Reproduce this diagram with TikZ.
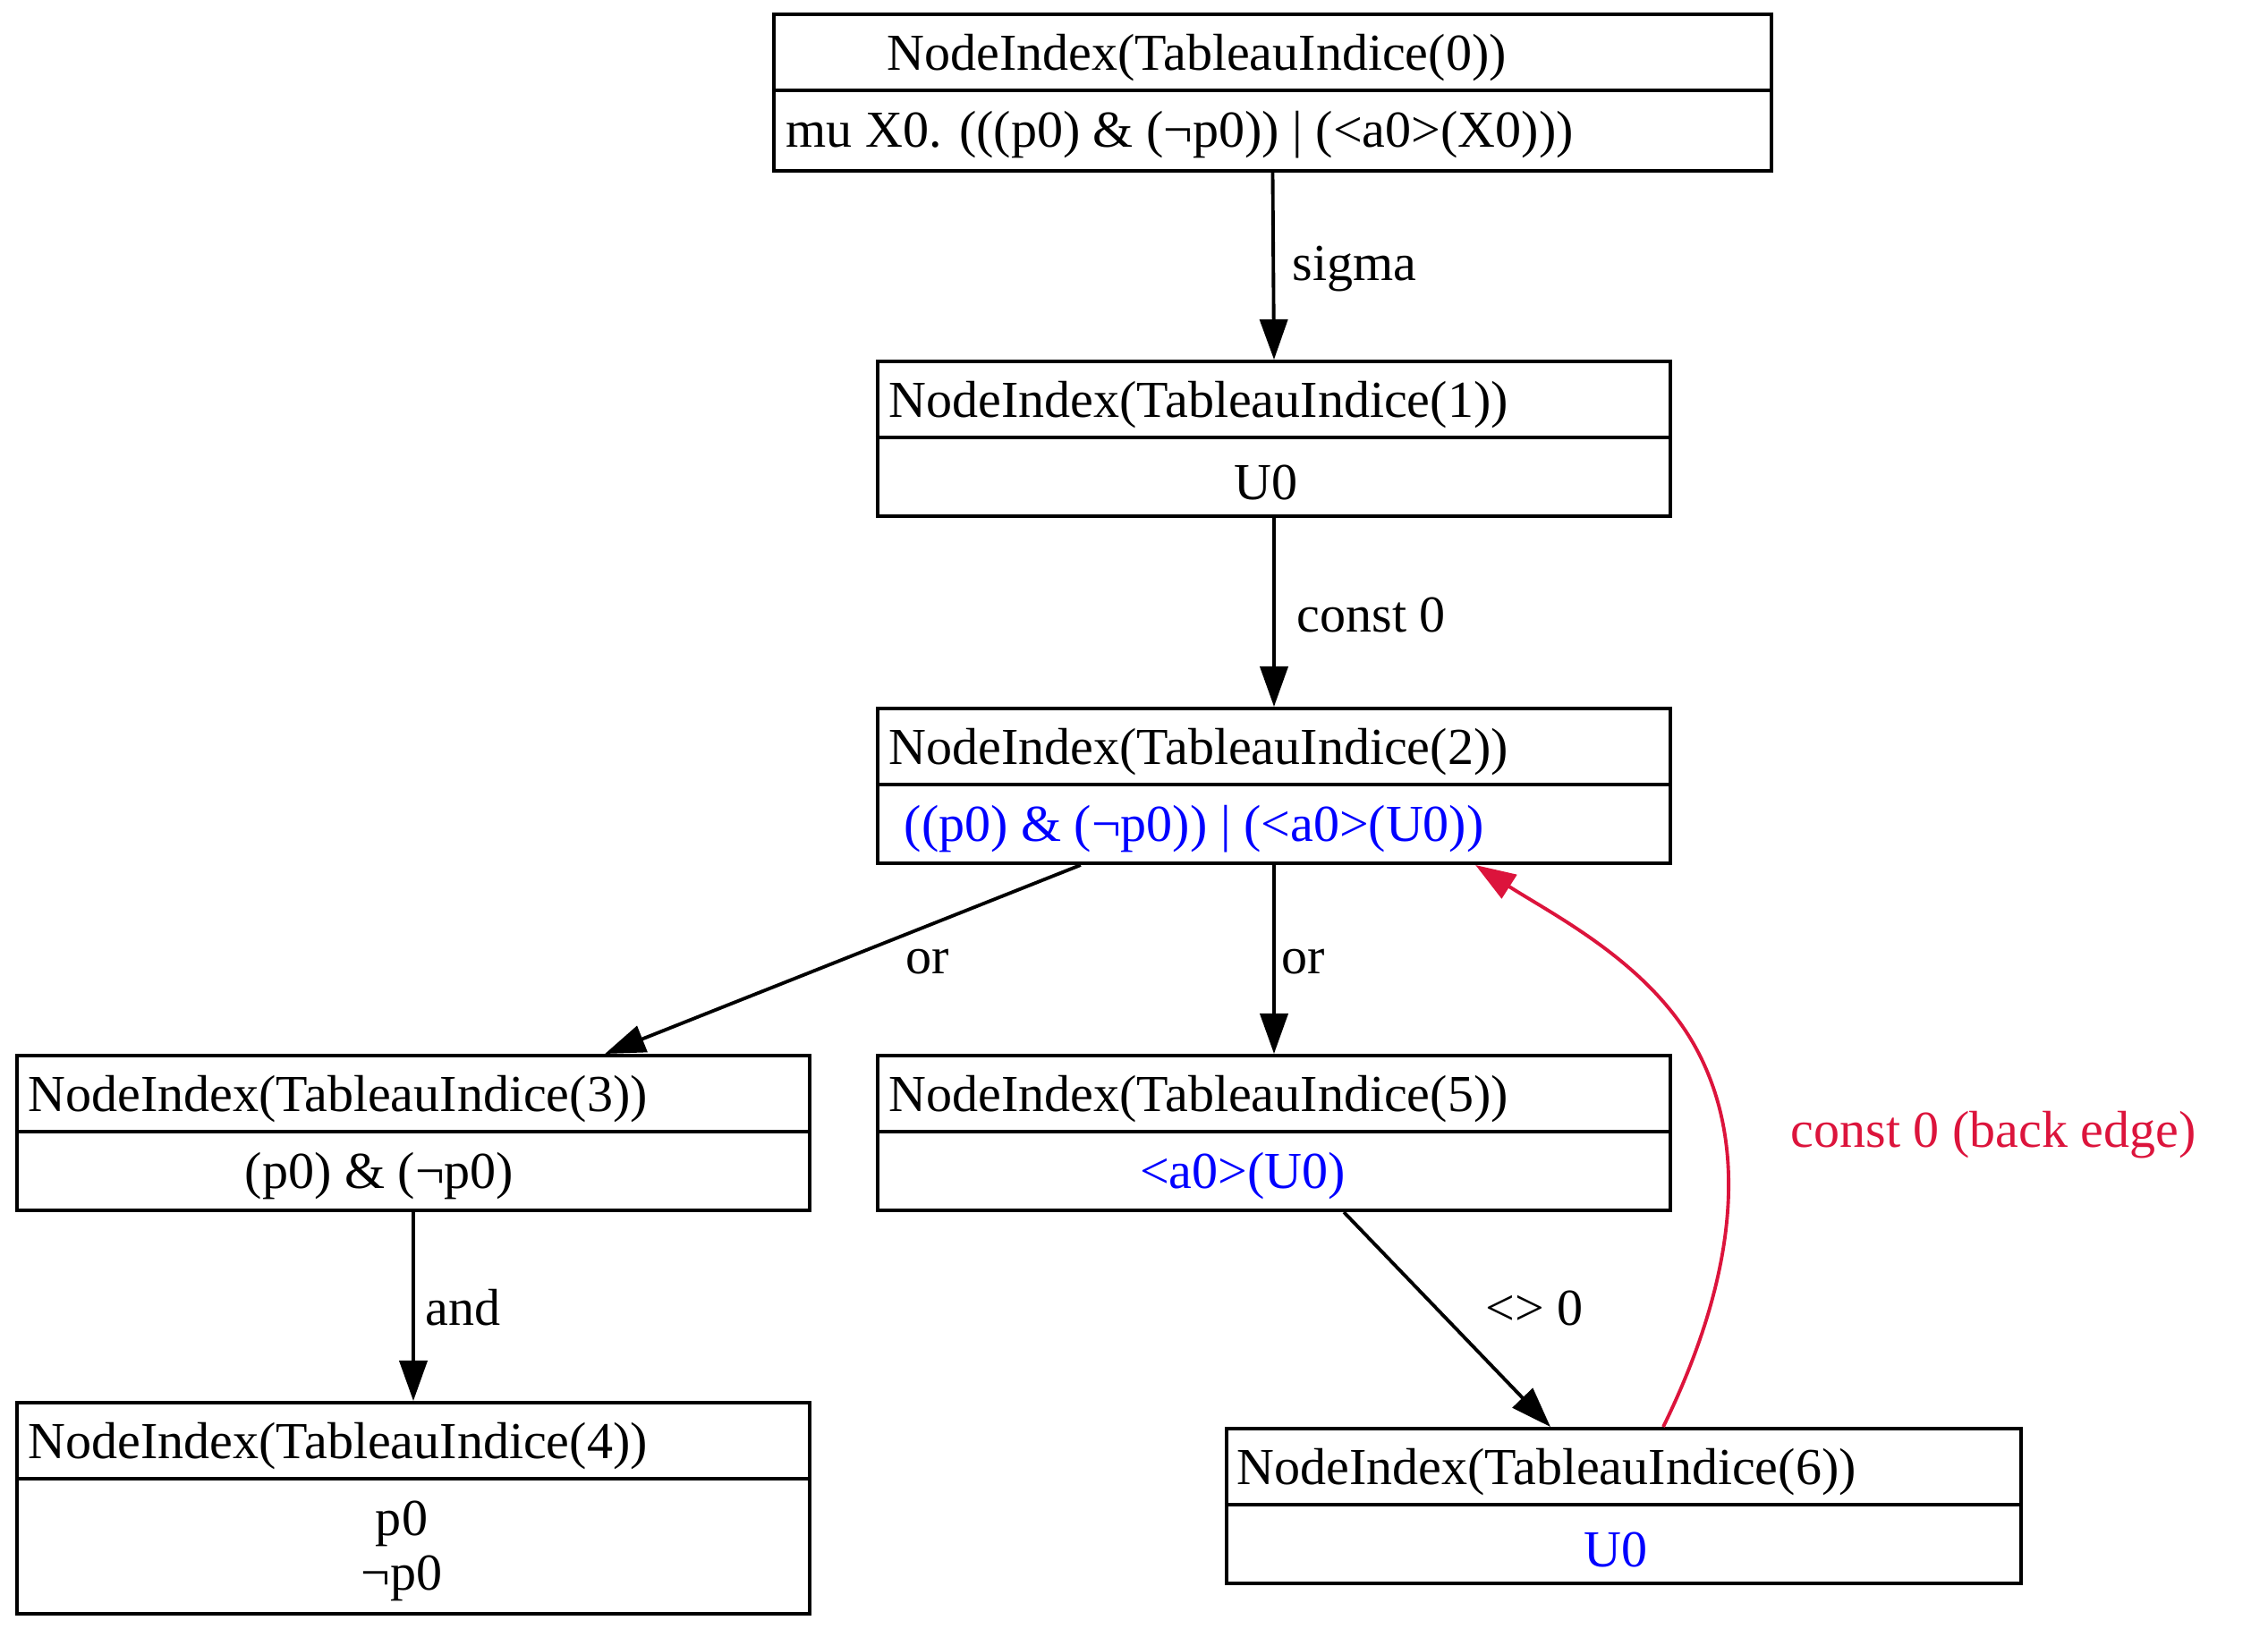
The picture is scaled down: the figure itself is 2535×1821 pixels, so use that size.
\documentclass[tikz,border=0pt]{standalone}
\usepackage{fontspec}
\setmainfont{Liberation Serif}
\usetikzlibrary{arrows.meta}
\definecolor{backred}{RGB}{220,20,60}

\begin{document}
\begin{tikzpicture}[x=0.01cm, y=-0.01cm,
    every node/.style={font=\fontsize{16.5}{19.8}\selectfont, inner sep=0pt},
    rec/.style={draw, line width=1.1pt, minimum width=8.86cm, minimum height=1.73cm},
    edge/.style={line width=1.1pt, -{Triangle[length=0.45cm, width=0.31cm]}},
    back/.style={edge, color=backred},
    formula/.style={text=blue}]

        \useasboundingbox (0,0) rectangle (2535,1821);

        % Boxes
        \node[rec, minimum width=11.15cm, minimum height=1.75cm] (n0) at (1422.5,103.5) {};
        \node[rec] (n1) at (1424,490.5) {};
        \node[rec] (n2) at (1424,878.5) {};
        \node[rec] (n3) at (462,1266.5) {};
        \node[rec] (n5) at (1424,1266.5) {};
        \node[rec, minimum height=2.36cm] (n4) at (462,1686) {};
        \node[rec, minimum width=8.88cm] (n6) at (1815,1683.5) {};

        % Dividers between title and formula
        \foreach \n in {n0,n1,n2,n3,n4,n5,n6} {
            \draw[line width=1.1pt] ([yshift=-0.87cm]\n.north west) -- ([yshift=-0.87cm]\n.north east);
        }

        % Titles
        \node[anchor=west] (t0) at (991,65) {NodeIndex(TableauIndice(0))};
        \node[anchor=west] (t1) at (993,453) {NodeIndex(TableauIndice(1))};
        \node[anchor=west] (t2) at (993,841) {NodeIndex(TableauIndice(2))};
        \node[anchor=west] (t3) at (31,1229) {NodeIndex(TableauIndice(3))};
        \node[anchor=west] (t5) at (993,1229) {NodeIndex(TableauIndice(5))};
        \node[anchor=west] (t4) at (31,1617) {NodeIndex(TableauIndice(4))};
        \node[anchor=west] (t6) at (1382,1646) {NodeIndex(TableauIndice(6))};

        % Formulas
        \node[anchor=west] (f0) at (878,151) {mu X0. (((p0) \& (¬p0)) | (<a0>(X0)))};
        \node (f1) at (1415,539) {U0};
        \node[formula, anchor=west] (f2) at (1010,927) {((p0) \& (¬p0)) | (<a0>(U0))};
        \node (f3) at (424,1315) {(p0) \& (¬p0)};
        \node[formula] (f5) at (1389,1315) {<a0>(U0)};
        \node[align=center, font=\fontsize{16.5}{17.3}\selectfont] (f4) at (449,1734) {p0\\¬p0};
        \node[formula] (f6) at (1806,1732) {U0};

        % Edges
        \draw[edge] (n0.south) -- (n1.north);
        \node[anchor=west] (l01) at (1444,301) {sigma};

        \draw[edge] (n1.south) -- (n2.north);
        \node[anchor=west] (l12) at (1449,687) {const 0};

        \draw[edge] ([xshift=-2.16cm]n2.south) -- ([xshift=2.14cm]n3.north);
        \node[anchor=west] (l23) at (1012,1075) {or};

        \draw[edge] (n2.south) -- (n5.north);
        \node[anchor=west] (l25) at (1432,1075) {or};

        \draw[edge] (n3.south) -- (n4.north);
        \node[anchor=west] (l34) at (475,1462) {and};

        \draw[edge] ([xshift=0.78cm]n5.south) -- ([xshift=-0.82cm]n6.north);
        \node[anchor=west] (l56) at (1660,1462) {<> 0};

        % Back edge
        \draw[back] ([xshift=0.44cm]n6.north) .. controls (1930,1450) and (1960,1300) .. (1900,1180)
            .. controls (1850,1080) and (1740,1025) .. ([xshift=2.25cm]n2.south);
        \node[anchor=west, text=backred] (l62) at (2001,1269) {const 0 (back edge)};

    \end{tikzpicture}
\end{document}
